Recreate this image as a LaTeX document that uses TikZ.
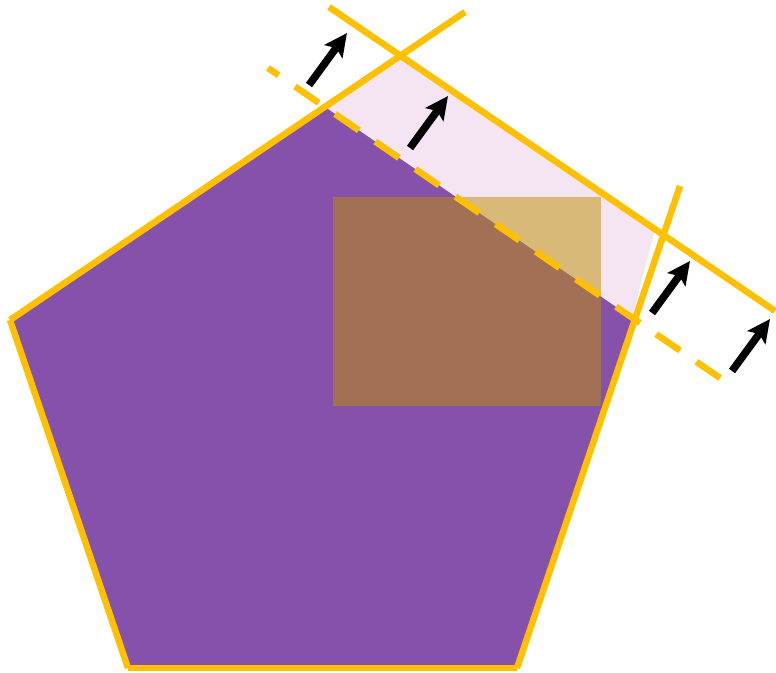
\documentclass[tikz,border=0pt]{standalone}
\usepackage{tikz}
\usetikzlibrary{arrows.meta,calc}
\usepackage{xcolor}

\definecolor{pentpurple}{RGB}{133,81,171}
\definecolor{rimyellow}{RGB}{255,192,0}
\definecolor{bandpink}{RGB}{245,228,241}
\definecolor{boxgold}{RGB}{191,144,0}

\begin{document}
\begin{tikzpicture}[x=0.02cm, y=-0.02cm,
    rim/.style={rimyellow, line width=3.7pt},
    rimdash/.style={rim, dash pattern=on 16.4pt off 11.3pt, dash phase=9.1pt},
    push/.style={black, line width=4.3pt, -{Stealth[length=13pt, width=12.5pt, inset=2.5pt]}}]
  \useasboundingbox (0,0) rectangle (776,672);
  % pentagon corners
  \coordinate (top) at (325,107);
  \coordinate (lft) at (10,320);
  \coordinate (bl) at (128,668);
  \coordinate (br) at (517,668);
  \coordinate (rgt) at (635,320);
  % shifted band
  \fill[bandpink] (top) -- (401,57) -- (655,229) -- (632,318) -- cycle;
  \fill[pentpurple] (top) -- (lft) -- (bl) -- (br) -- (rgt) -- cycle;
  \fill[boxgold, fill opacity=0.5] (333,197) rectangle (601,406);
  % outline pieces
  \draw[rim] (lft) -- (465,12);
  \draw[rim] (lft) -- (bl);
  \draw[rim] (bl) -- (br);
  \draw[rim] (br) -- (680,186);
  \draw[rimdash] (268,68) -- (723,380);
  \draw[rim] (329,7) -- (775,311);
  % arrows
  \draw[push] (309,85) -- ++(38,-52);
  \draw[push] (410,148) -- ++(38,-52);
  \draw[push] (652,313) -- ++(38,-52);
  \draw[push] (732,371) -- ++(38,-52);
\end{tikzpicture}
\end{document}
